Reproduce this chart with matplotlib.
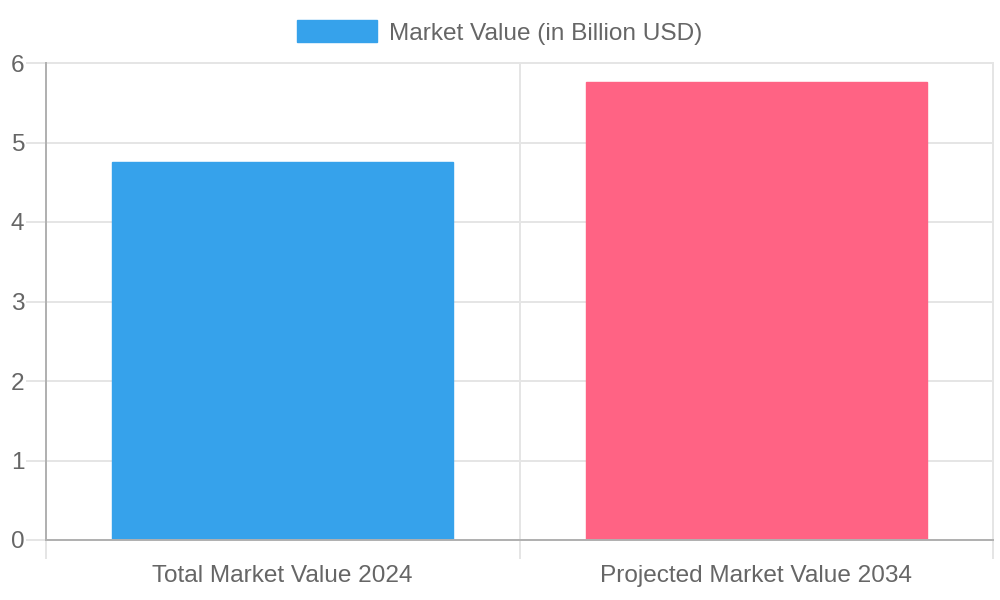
import matplotlib

matplotlib.use("Agg")
import matplotlib.pyplot as plt
from matplotlib.ticker import FixedLocator

categories = ["Total Market Value 2024", "Projected Market Value 2034"]
values = [4.75, 5.76]
colors = ["#36A2EB", "#FF6384"]
series_label = "Market Value (in Billion USD)"
y_ticks = [0, 1, 2, 3, 4, 5, 6]

TEXT = "#666666"
GRID = "#e5e5e5"
AXIS = "#b0b0b0"
FS = 17.6  # ~24 px at dpi 100

plt.rcParams["font.family"] = ["Liberation Sans", "DejaVu Sans"]

fig = plt.figure(figsize=(10, 6), dpi=100)
ax = fig.add_axes([0.046, 0.1, 0.947, 0.795])

x = list(range(len(categories)))
bars = ax.bar(x, values, width=0.72, color=colors, edgecolor=colors,
              linewidth=1, label=series_label, zorder=3)

ax.set_xlim(-0.5, len(categories) - 0.5)
ax.set_ylim(0, 6)
ax.set_yticks(y_ticks)
ax.set_xticks(x)
ax.set_xticklabels(categories)
ax.xaxis.set_minor_locator(FixedLocator([i - 0.5 for i in range(len(categories) + 1)]))

ax.tick_params(axis="x", which="major", length=0, pad=18, labelsize=FS, labelcolor=TEXT)
ax.tick_params(axis="x", which="minor", length=14, width=1.4, color=GRID)
ax.tick_params(axis="y", length=14.5, width=1.4, color=GRID, pad=1,
               labelsize=FS, labelcolor=TEXT)

ax.grid(axis="y", color=GRID, linewidth=1.4, zorder=0)
ax.grid(axis="x", which="minor", color=GRID, linewidth=1.4, zorder=0)
ax.set_axisbelow(True)
for tick in ax.xaxis.get_minor_ticks() + ax.yaxis.get_major_ticks():
    tick.gridline.set_clip_on(False)

for side in ("top", "right"):
    ax.spines[side].set_visible(False)
for side in ("left", "bottom"):
    ax.spines[side].set_color(AXIS)
    ax.spines[side].set_linewidth(1.4)
    ax.spines[side].set_zorder(4)

leg = fig.legend(handles=[bars[0]], labels=[series_label], loc="center",
                 bbox_to_anchor=(0.5, 0.946), frameon=False, fontsize=FS,
                 handlelength=3.28, handleheight=1.0, handletextpad=0.49,
                 labelcolor=TEXT)

fig.savefig("out.png", dpi=100)
